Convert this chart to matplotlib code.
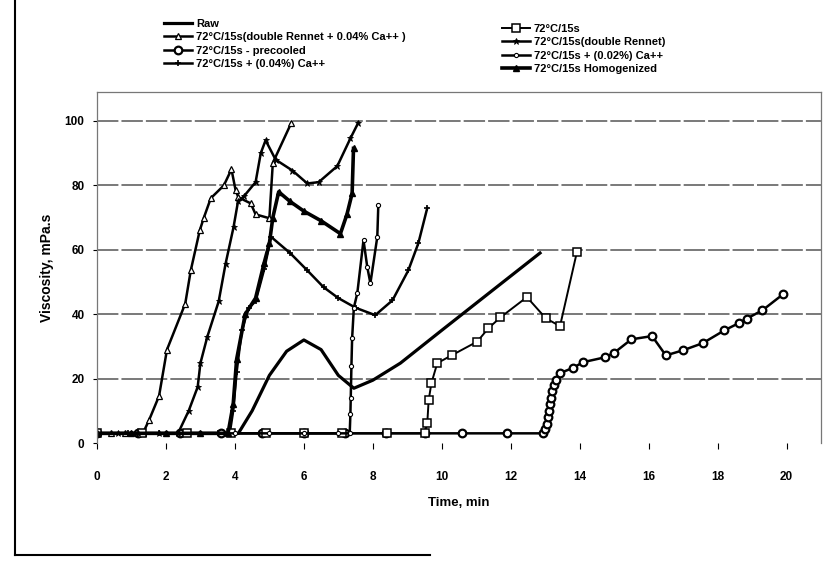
import numpy as np
import matplotlib
matplotlib.use('Agg')
import matplotlib.pyplot as plt
from matplotlib.lines import Line2D

plt.rcParams.update({'font.family': 'Liberation Sans', 'font.weight': 'bold',
                     'font.size': 8})

# ---- data ----
raw_x = [0, 1, 2, 3, 4.1, 4.5, 5.0, 5.5, 6.0, 6.5, 7.0, 7.45, 8.0, 8.8, 10.0, 11.4, 12.85]
raw_y = [3, 3, 3, 3, 3, 10, 21, 28.5, 32, 29, 21, 17, 19.5, 24.8, 35, 46.8, 59]

sq_x = [0, 1.3, 2.6, 3.9, 4.9, 6.0, 7.1, 8.4, 9.5, 9.58, 9.62, 9.7, 9.87,
        10.3, 11.03, 11.35, 11.7, 12.47, 13.02, 13.43, 13.92]
sq_y = [3, 3, 3, 3, 3, 3, 3, 3, 3, 6.2, 13.3, 18.6, 24.8,
        27.3, 31.5, 35.6, 39, 45.3, 38.7, 36.3, 59.3]

drca_x = [0, 0.4, 0.8, 1.33, 1.51, 1.8, 2.03, 2.56, 2.72, 2.98, 3.1, 3.3, 3.68,
          3.9, 4.02, 4.1, 4.46, 4.6, 5.0, 5.1, 5.64]
drca_y = [3, 3, 3, 3, 7.1, 14.6, 29, 43.3, 53.6, 66, 70, 76, 80,
          85, 78.5, 76.3, 74.4, 71, 69.8, 87, 99.5]

dr_x = [0, 0.6, 1.2, 1.8, 2.35, 2.66, 2.92, 3.0, 3.2, 3.53, 3.73, 3.96, 4.09,
        4.26, 4.6, 4.75, 4.89, 5.18, 5.67, 6.1, 6.43, 6.97, 7.35, 7.58]
dr_y = [3, 3, 3, 3, 3, 10, 17.4, 24.8, 33, 44, 55.7, 67, 75,
        76.6, 81, 90, 94, 88, 84.6, 80.6, 81, 86, 94.6, 99.5]

pre_x = [0, 1.2, 2.4, 3.6, 4.8, 6.0, 7.2, 8.37, 9.5, 10.6, 11.9, 12.94, 13.0,
         13.05, 13.08, 13.1, 13.13, 13.16, 13.2, 13.25, 13.3, 13.43, 13.8, 14.1,
         14.73, 15.0, 15.5, 16.1, 16.5, 17.0, 17.57, 18.2, 18.63, 18.84, 19.3, 19.9]
pre_y = [3, 3, 3, 3, 3, 3, 3, 3, 3, 3, 3, 3, 4.5,
         6, 8, 10, 12, 14, 16, 18, 19.5, 21.7, 23.3, 25.1,
         26.6, 28, 32.2, 33.2, 27.2, 28.8, 31, 35, 37.3, 38.6, 41.2, 46.2]

ca04_x = [0, 0.9, 1.8, 2.7, 3.5, 3.85, 3.95, 4.05, 4.2, 4.4, 4.6, 4.85, 5.05,
          5.6, 6.1, 6.57, 7.0, 7.5, 8.07, 8.57, 9.03, 9.32, 9.58]
ca04_y = [3, 3, 3, 3, 3, 3, 10, 22, 35, 42, 44, 54, 64,
          59, 53.6, 48.4, 45, 42, 39.7, 44.3, 53.6, 62, 73]

ca02_x = [0, 1.0, 2.0, 3.0, 4.0, 5.0, 6.0, 7.0, 7.33, 7.35, 7.36, 7.38, 7.4,
          7.45, 7.55, 7.73, 7.84, 7.93, 8.13, 8.16]
ca02_y = [3, 3, 3, 3, 3, 3, 3, 3, 3, 9, 14, 24, 32.5,
          42, 46.5, 63, 54.6, 49.6, 64, 74]

hom_x = [0, 1.0, 2.0, 3.0, 3.8, 3.95, 4.05, 4.3, 4.6, 4.85, 5.0, 5.1, 5.27,
         5.6, 6.0, 6.5, 7.06, 7.25, 7.4, 7.44]
hom_y = [3, 3, 3, 3, 3, 12, 26, 40, 45, 56, 62, 70, 78,
         75, 72, 69, 65, 71, 77.5, 91.5]

xticks = np.arange(0, 21, 2)
yticks = np.arange(0, 101, 20)

# ---- figure ----
fig = plt.figure(figsize=(8.31, 5.64), dpi=100)
ax = fig.add_axes([97/831, 1-443/564, (821-97)/831, (443-92)/564])
ax.set_xlim(0, 21)
ax.set_ylim(0, 109)

for yv in yticks[1:]:
    ax.axhline(yv, color='#555555', lw=1.1, ls=(0, (14, 2)), zorder=0)

lw = 1.8
h_raw, = ax.plot(raw_x, raw_y, '-', color='k', lw=2.3)
h_drca, = ax.plot(drca_x, drca_y, '-^', color='k', lw=lw, ms=3.8,
                  mfc='w', mec='k', mew=0.9)
h_pre, = ax.plot(pre_x, pre_y, '-o', color='k', lw=lw, ms=5.5,
                 mfc='w', mec='k', mew=1.6)
h_ca04, = ax.plot(ca04_x, ca04_y, '-+', color='k', lw=lw, ms=5, mew=1.2)
h_sq, = ax.plot(sq_x, sq_y, '-s', color='k', lw=1.4, ms=6,
                mfc='w', mec='k', mew=1.1)
h_dr, = ax.plot(dr_x, dr_y, '-*', color='k', lw=lw, ms=5, mew=0.6)
h_ca02, = ax.plot(ca02_x, ca02_y, '-o', color='k', lw=lw, ms=3,
                  mfc='w', mec='k', mew=0.8)
h_hom, = ax.plot(hom_x, hom_y, '-^', color='k', lw=2.6, ms=4.5,
                 mfc='k', mec='k')

ax.set_xticks(xticks)
ax.set_yticks(yticks)
ax.tick_params(axis='x', direction='out', length=4, pad=16, labelsize=8.5)
ax.tick_params(axis='y', direction='out', length=3, pad=6, labelsize=8.5)
for s in ['left', 'top', 'right']:
    ax.spines[s].set_color('#777777')
    ax.spines[s].set_linewidth(0.9)
ax.spines['bottom'].set_visible(False)

ax.set_xlabel('Time, min', fontsize=9.5, fontweight='bold', labelpad=10)
ax.set_ylabel('Viscosity, mPa.s', fontsize=10, fontweight='bold', labelpad=8)

# two-column legend above the plot
leg1 = fig.legend([h_raw, h_drca, h_pre, h_ca04],
                  ['Raw', '72°C/15s(double Rennet + 0.04% Ca++ )',
                   '72°C/15s - precooled', '72°C/15s + (0.04%) Ca++'],
                  loc='upper left', bbox_to_anchor=(158/831, 1-13/564),
                  frameon=False, fontsize=8, handlelength=2.6,
                  handletextpad=0.3, labelspacing=0.32, borderpad=0)
leg2 = fig.legend([h_sq, h_dr, h_ca02, h_hom],
                  ['72°C/15s', '72°C/15s(double Rennet)',
                   '72°C/15s + (0.02%) Ca++', '72°C/15s Homogenized'],
                  loc='upper left', bbox_to_anchor=(496/831, 1-18/564),
                  frameon=False, fontsize=8, handlelength=2.6,
                  handletextpad=0.3, labelspacing=0.32, borderpad=0)

# outer frame remnants of the scanned page
fig.add_artist(Line2D([15/831, 15/831], [1-555/564, 1.0], color='k', lw=1.5))
fig.add_artist(Line2D([15/831, 430/831], [1-555/564, 1-555/564], color='k', lw=1.5))

fig.savefig('out.png', dpi=100)
